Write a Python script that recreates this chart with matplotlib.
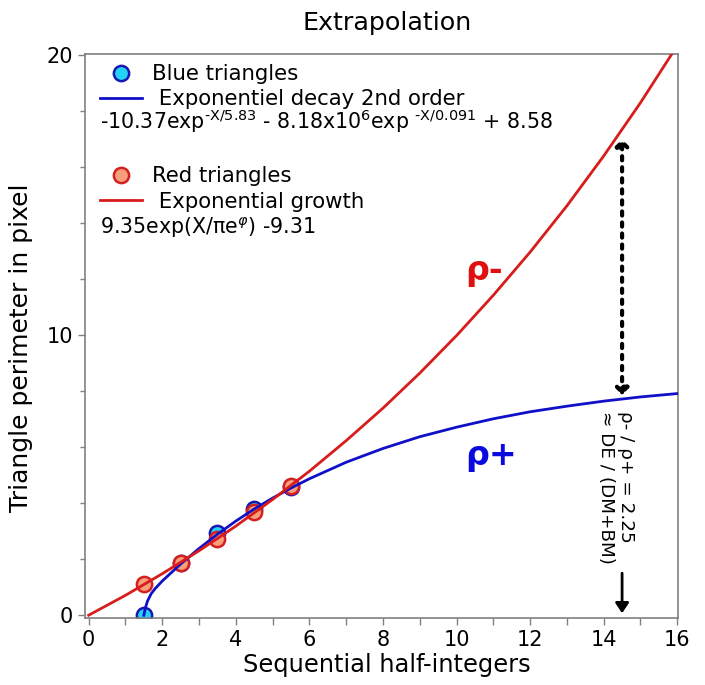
import numpy as np
import matplotlib
matplotlib.use("Agg")
import matplotlib.pyplot as plt
from matplotlib.lines import Line2D
from matplotlib.ticker import MultipleLocator

# ── Data ─────────────────────────────────────────────────────────────────────
x_pts    = [1.5, 2.5, 3.5, 4.5, 5.5]
blue_pts = [0.00, 1.88, 2.93, 3.80, 4.57]
red_pts  = [1.10, 1.86, 2.73, 3.68, 4.60]

blue_fit_x = [1.50, 1.52, 1.55, 1.60, 1.70, 1.80, 2.0, 2.5, 3.0, 3.5, 4.0, 4.5,
              5.0, 5.5, 6.0, 7.0, 8.0, 9.0, 10.0, 11.0, 12.0, 13.0, 14.0, 15.0, 16.0]
blue_fit_y = [0.00, 0.14, 0.30, 0.51, 0.77, 0.94, 1.22, 1.83, 2.38, 2.89, 3.36, 3.79,
              4.18, 4.54, 4.87, 5.46, 5.95, 6.37, 6.71, 7.01, 7.26, 7.46, 7.64, 7.79, 7.91]

red_fit_x = [0, 1, 2, 3, 4, 5, 6, 7, 8, 9, 10, 11, 12, 13, 14, 15, 16]
red_fit_y = [0.00, 0.71, 1.48, 2.30, 3.18, 4.13, 5.14, 6.23, 7.39, 8.64, 9.98,
             11.42, 12.96, 14.61, 16.39, 18.29, 20.33]

ratio_top, ratio_bottom = 17.0, 7.85     # dotted arrow span at x = 14.5
arrow_x = 14.5

BLUE_LINE = "#1010c8"
RED_LINE  = "#d81c1c"
BLUE_FACE = "#22d3f5"
BLUE_EDGE = "#1818b0"
RED_FACE  = "#f5a07a"
RED_EDGE  = "#d42020"
GREY      = "#808080"

fig = plt.figure(figsize=(7.05, 6.85), dpi=100)
ax = fig.add_axes([0.1206, 0.0978, 0.8411, 0.8234])

ax.plot(x_pts, blue_pts, "o", ms=11, mfc=BLUE_FACE, mec=BLUE_EDGE, mew=1.8, zorder=2)
ax.plot(x_pts, red_pts, "o", ms=11, mfc=RED_FACE, mec=RED_EDGE, mew=1.8, zorder=2)
ax.plot(blue_fit_x, blue_fit_y, color=BLUE_LINE, lw=2, zorder=3)
ax.plot(red_fit_x, red_fit_y, color=RED_LINE, lw=2, zorder=3)

ax.set_xlim(-0.1, 16.02)
ax.set_ylim(-0.1, 20.03)
ax.xaxis.set_major_locator(MultipleLocator(2))
ax.xaxis.set_minor_locator(MultipleLocator(1))
ax.yaxis.set_major_locator(MultipleLocator(10))
ax.yaxis.set_minor_locator(MultipleLocator(2))
ax.tick_params(axis="both", which="major", length=5, width=1, color=GREY,
               labelsize=15, labelcolor="black")
ax.tick_params(axis="x", which="minor", length=5, width=1, color=GREY)
ax.tick_params(axis="y", which="minor", length=3.5, width=1, color=GREY)
for sp in ax.spines.values():
    sp.set_color(GREY)
    sp.set_linewidth(1.2)

ax.set_xlabel("Sequential half-integers", fontsize=17.4)
ax.set_ylabel("Triangle perimeter in pixel", fontsize=18)
ax.xaxis.set_label_coords(0.509, -0.062)
ax.yaxis.set_label_coords(-0.088, 0.48)
ax.set_title("Extrapolation", fontsize=18.3, pad=17, x=0.51)

# legends (two blocks so the formula lines fit between them)
h_blue = [Line2D([], [], ls="none", marker="o", ms=11, mfc=BLUE_FACE, mec=BLUE_EDGE, mew=1.8),
          Line2D([], [], color=BLUE_LINE, lw=2)]
h_red = [Line2D([], [], ls="none", marker="o", ms=11, mfc=RED_FACE, mec=RED_EDGE, mew=1.8),
         Line2D([], [], color=RED_LINE, lw=2)]
leg_kw = dict(loc="upper left", frameon=False, fontsize=15.3, borderpad=0,
              borderaxespad=0, handlelength=2.0, handletextpad=0.45, labelspacing=0.25)
leg1 = ax.legend(h_blue, ["Blue triangles", " Exponentiel decay 2nd order"],
                 bbox_to_anchor=(0.025, 0.982), **leg_kw)
ax.add_artist(leg1)
ax.legend(h_red, ["Red triangles", " Exponential growth"],
          bbox_to_anchor=(0.025, 0.801), **leg_kw)

hy = "\u2010"
ax.text(0.026, 0.88,
        r"-10.37exp$^{\mathrm{%sX/5.83}}$ - 8.18x10$^{\mathrm{6}}$exp $^{\mathrm{%sX/0.091}}$ + 8.58"
        % (hy, hy),
        transform=ax.transAxes, fontsize=14.8, va="center", ha="left")
ax.text(0.026, 0.692, r"9.35exp(X/πe$^{\varphi}$) -9.31",
        transform=ax.transAxes, fontsize=14.8, va="center", ha="left")

ax.text(10.74, 12.3, "ρ-", color="#e01010", fontsize=24, fontweight="bold",
        ha="center", va="center")
ax.text(10.93, 5.7, "ρ+", color="#0a0ae0", fontsize=24, fontweight="bold",
        ha="center", va="center")

ax.annotate("", xy=(arrow_x, ratio_top), xytext=(arrow_x, ratio_bottom),
            arrowprops=dict(arrowstyle="<|-|>,head_length=0.4,head_width=0.38",
                            ls=":", lw=3, color="black", shrinkA=0, shrinkB=0))
ax.annotate("", xy=(arrow_x, 0.07), xytext=(arrow_x, 1.5),
            arrowprops=dict(arrowstyle="-|>,head_length=0.6,head_width=0.4",
                            lw=2, color="black", shrinkA=0, shrinkB=0))
ax.text(14.33, 7.3, "ρ- / ρ+ = 2.25\n≈ DE / (DM+BM)", rotation=270,
        fontsize=13.2, ha="center", va="top", multialignment="left",
        linespacing=1.1)

fig.savefig("out.png", dpi=100)
